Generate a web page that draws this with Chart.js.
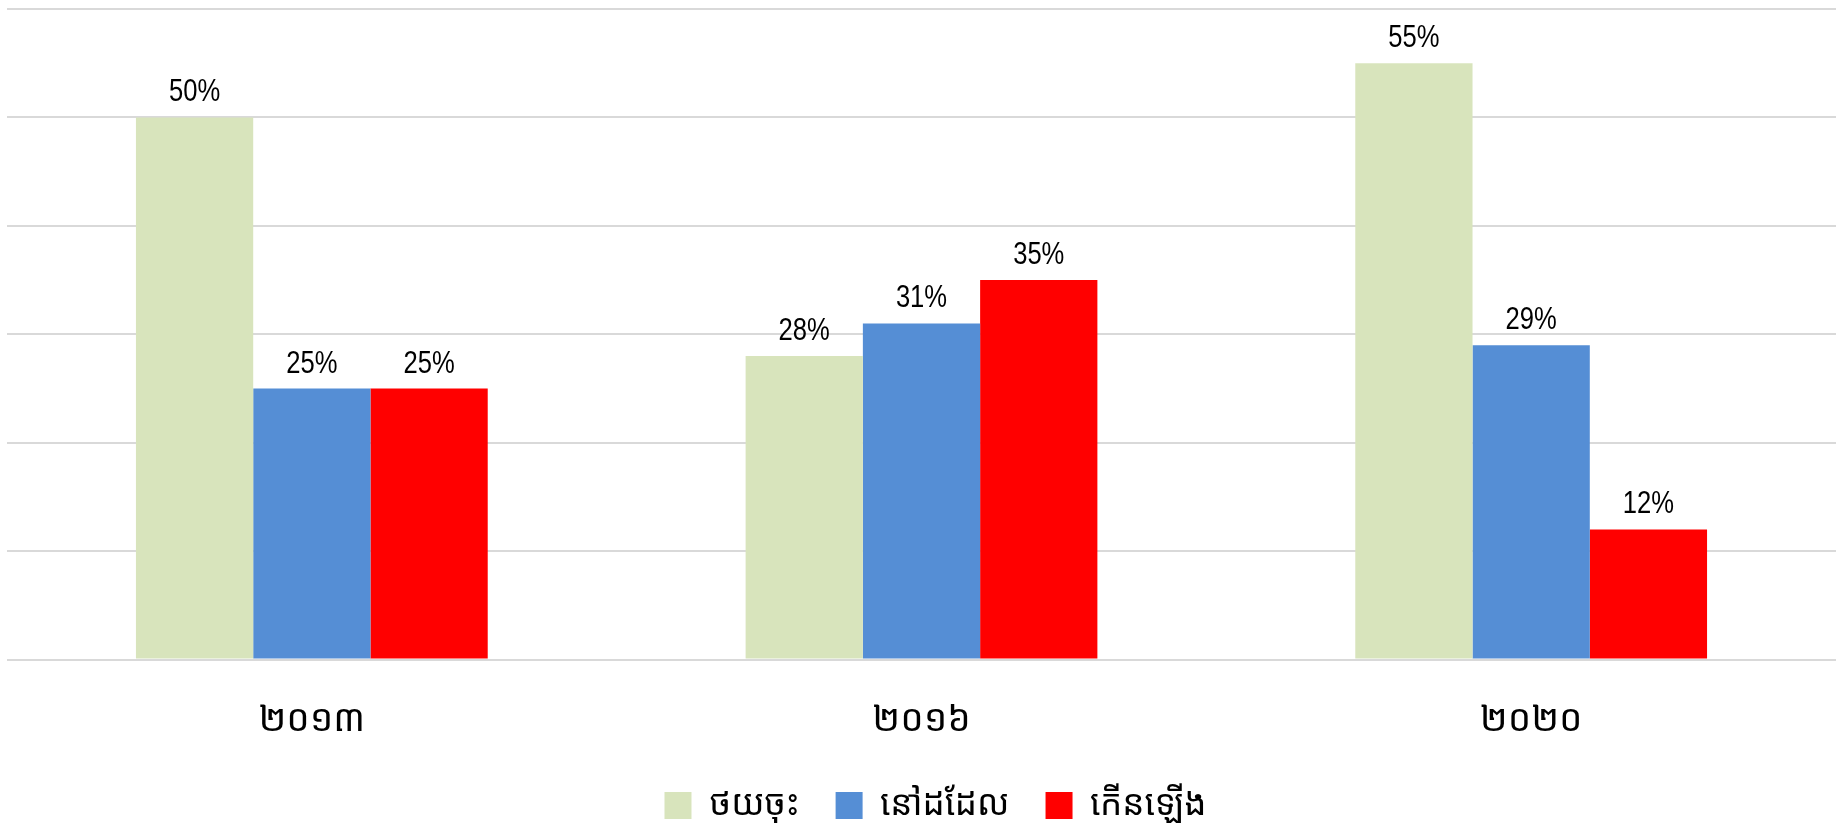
<!DOCTYPE html>
<html>
<head>
<meta charset="utf-8">
<script src="https://cdn.jsdelivr.net/npm/chart.js@4.4.0/dist/chart.umd.min.js"></script>
<style>
  html, body { margin: 0; padding: 0; background: #fff; overflow: hidden; }
  #wrap { width: 1837px; height: 823px; }
</style>
</head>
<body>
<div id="wrap"><canvas id="myChart"></canvas></div>
<script>
// categories (Khmer years) and the three series, in percent
const years = ["២០១៣", "២០១៦", "២០២០"];
const seriesNames = ["ថយចុះ", "នៅដដែល", "កើនឡើង"];
const thayChos = [50, 28, 55];
const nowDadel = [25, 31, 29];
const koenLaeng = [25, 35, 12];
const yTicks = [0, 10, 20, 30, 40, 50, 60];

const colors = ["#d8e4bc", "#558ed5", "#ff0000"];
const khmerFont = "'Khmer OS', 'Khmer OS System', 'Noto Sans Khmer', 'Noto Serif Khmer', 'Leelawadee UI', sans-serif";

// draws the "xx%" label above each bar (no datalabels plugin available offline)
// squeezed horizontally to look like Arial Narrow
const barLabels = {
  id: "barLabels",
  afterDatasetsDraw(chart) {
    const ctx = chart.ctx;
    const squeeze = 0.8;
    chart.data.datasets.forEach((ds, i) => {
      const meta = chart.getDatasetMeta(i);
      meta.data.forEach((bar, j) => {
        ctx.save();
        ctx.font = "32px 'Liberation Sans', Arial, sans-serif";
        ctx.fillStyle = "#000";
        ctx.textAlign = "center";
        ctx.textBaseline = "alphabetic";
        ctx.translate(bar.x, bar.y - 16);
        ctx.scale(squeeze, 1);
        ctx.fillText(ds.data[j] + "%", 0, 0);
        ctx.restore();
      });
    });
  }
};

// the legend in the original sits a little right of centre
const legendShift = {
  id: "legendShift",
  afterLayout(chart) {
    if (chart.legend) {
      chart.legend.left += 14;
      chart.legend.right += 14;
    }
  }
};

document.addEventListener("DOMContentLoaded", () => {
  const ctx = document.getElementById("myChart");

  new Chart(ctx, {
    type: "bar",
    data: {
      labels: years,
      datasets: [
        { label: seriesNames[0], data: thayChos, backgroundColor: colors[0] },
        { label: seriesNames[1], data: nowDadel, backgroundColor: colors[1] },
        { label: seriesNames[2], data: koenLaeng, backgroundColor: colors[2] }
      ]
    },
    options: {
      responsive: true,
      maintainAspectRatio: false,
      animation: false,
      layout: { padding: { left: 7, right: 1, top: 9, bottom: -10 } },
      datasets: {
        bar: { categoryPercentage: 0.577, barPercentage: 1.0 }
      },
      scales: {
        x: {
          grid: { display: false },
          border: { display: false },
          afterFit: (scale) => { scale.height -= 22; },
          ticks: {
            color: "#000",
            padding: 31,
            font: { family: khmerFont, size: 37 }
          }
        },
        y: {
          min: 0,
          max: 60,
          afterBuildTicks: (scale) => {
            scale.ticks = yTicks.map(v => ({ value: v }));
          },
          afterFit: (scale) => { scale.width = 0; },
          ticks: { display: false },
          border: { display: false },
          grid: { color: "#d9d9d9", lineWidth: 2, drawTicks: false }
        }
      },
      plugins: {
        tooltip: { enabled: false },
        legend: {
          position: "bottom",
          labels: {
            color: "#000",
            boxWidth: 27,
            boxHeight: 27,
            padding: 36,
            font: { family: khmerFont, size: 35 }
          }
        }
      }
    },
    plugins: [barLabels, legendShift]
  });
});
</script>
</body>
</html>
